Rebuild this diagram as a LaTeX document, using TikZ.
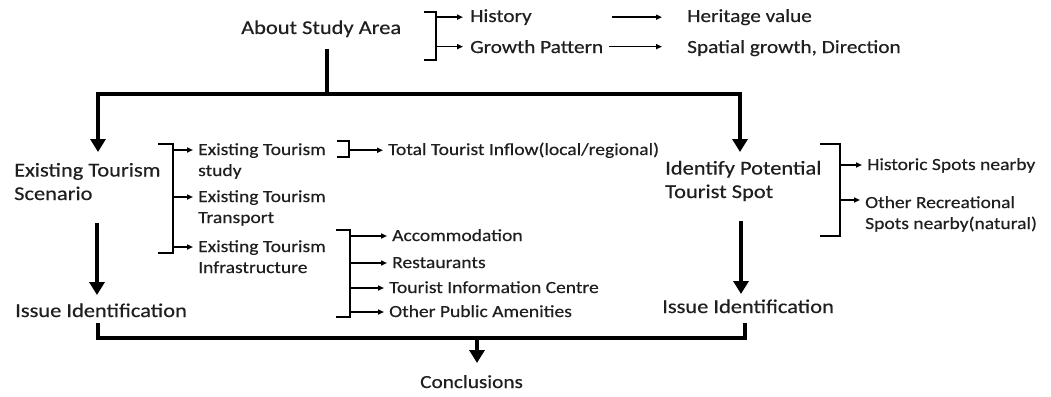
\documentclass[tikz,border=0pt]{standalone}
\usepackage{fontspec}
\setmainfont[FakeStretch=1.15,FakeBold=0.4]{Carlito}
\usetikzlibrary{arrows.meta,positioning}

\begin{document}
\begin{tikzpicture}[x=1pt,y=-1pt,
lbl/.style={anchor=base west,inner sep=0pt,align=left,text=black!88},
big/.style={lbl,font=\fontsize{19.5}{23.5}\selectfont},
mid/.style={lbl,font=\fontsize{18.5}{22}\selectfont},
small/.style={lbl,font=\fontsize{17}{21}\selectfont},
mainline/.style={line width=4pt},
mainarr/.style={mainline,-{Triangle[length=13pt,width=15pt]}},
brk/.style={line width=2pt},
tarr/.style={line width=1.5pt,-{Triangle[length=6pt,width=5pt]}}]
\fill[white](0,0)rectangle(1051,396);
\useasboundingbox(0,0)rectangle(1051,396);
% texts (two-line nodes sit on the baseline of their last line)
\node[big](about) at (241,34){About Study Area};
\node[mid](history) at (470,22){History};
\node[mid](growth) at (470,53){Growth Pattern};
\node[mid](heritage) at (687,22){Heritage value};
\node[mid](spatial) at (687,53){Spatial growth, Direction};
\node[big](scenario) at (14,200){Existing Tourism\\Scenario};
\node[small](study) at (198,176){Existing Tourism\\study};
\node[small](transport) at (198,223){Existing Tourism\\Transport};
\node[small](infra) at (198,273){Existing Tourism\\Infrastructure};
\node[small](inflow) at (388,155){Total Tourist Inflow(local/regional)};
\node[small](accom) at (392,241){Accommodation};
\node[small](rest) at (392,268){Restaurants};
\node[small](info) at (389,293){Tourist Information Centre};
\node[small](amen) at (389,317){Other Public Amenities};
\node[big](potential) at (665,198){Identify Potential\\Tourist Spot};
\node[small](historic) at (867,170){Historic Spots nearby};
\node[small](recre) at (865,229){Other Recreational\\Spots nearby(natural)};
\node[big](issueL) at (15,317){Issue Identification};
\node[big](issueR) at (662,313){Issue Identification};
\node[mid](concl) at (420,388){Conclusions};
% main flow
\coordinate(forktop) at (327,49);
\coordinate(fork) at (327,94);
\coordinate(sceTop) at (98,152);
\coordinate(potTop) at (740,152);
\draw[mainline](forktop)--(fork);
\draw[mainarr](fork)-|(sceTop);
\draw[mainarr](fork)-|(potTop);
\coordinate(sceBot) at (97,223);
\coordinate(issueLTop) at (97,295);
\coordinate(potBot) at (741,221);
\coordinate(issueRTop) at (741,294);
\draw[mainarr](sceBot)--(issueLTop);
\draw[mainarr](potBot)--(issueRTop);
\coordinate(joinL) at (98,323);
\coordinate(joinR) at (745,323);
\coordinate(merge) at (477,338);
\coordinate(conclTop) at (477,363);
\draw[mainline](joinL)|-(merge)-|(joinR);
\draw[mainarr](merge)--(conclTop);
% about study area
\coordinate(bAbout) at (436,0);
\draw[brk](424,12)-|(436,60)--(424,60);
\draw[tarr](bAbout|-history.west)--([xshift=-7pt]history.west);
\draw[tarr](bAbout|-growth.west)--([xshift=-7pt]growth.west);
\coordinate(htip) at ([xshift=-25pt]heritage.west);
\draw[tarr](612,0|-htip)--(htip);
\coordinate(gtip) at ([xshift=-25pt]spatial.west);
\draw[tarr]([xshift=6pt]growth.east)--(gtip|-growth.east);
% existing tourism
\coordinate(bScene) at (173,0);
\draw[brk](158,144)-|(173,253)--(158,253);
\foreach \n in {study,transport,infra}{
  \coordinate(tip) at ([xshift=-5pt,yshift=26pt]\n.base west);
  \draw[tarr](bScene|-tip)--(tip);}
\coordinate(bStudy) at (349,0);
\draw[brk](337,141)-|(349,157)--(337,157);
\draw[tarr](bStudy|-inflow.west)--([xshift=-5pt]inflow.west);
\coordinate(bInfra) at (350,0);
\draw[brk](336,230)-|(350,317)--(336,317);
\foreach \n in {accom,rest,info,amen}{
  \coordinate(tip) at ([xshift=-5pt,yshift=5pt]\n.base west);
  \draw[tarr](bInfra|-tip)--(tip);}
% potential spot
\coordinate(bPot) at (840,0);
\draw[brk](820,144)-|(840,236)--(820,236);
\foreach \n/\s in {historic/5,recre/29}{
  \coordinate(tip) at ([xshift=-5pt,yshift=\s pt]\n.base west);
  \draw[tarr](bPot|-tip)--(tip);}
\end{tikzpicture}
\end{document}
